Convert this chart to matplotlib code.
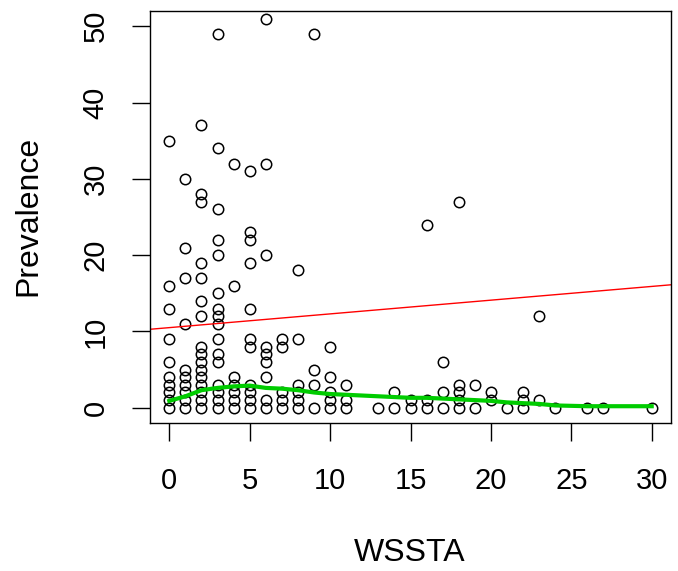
import numpy as np
import matplotlib.pyplot as plt

plt.rcParams.update(
    {
        "font.family": ["Liberation Sans", "DejaVu Sans"],
        "font.size": 21,
    }
)

# WSSTA value -> prevalence values observed at that value
points = {
    0: [0, 1, 2, 3, 4, 6, 9, 13, 16, 35],
    1: [0, 1, 2, 3, 4, 5, 11, 17, 21, 30],
    2: [0, 1, 2, 3, 4, 5, 6, 7, 8, 12, 14, 17, 19, 27, 28, 37],
    3: [0, 1, 2, 3, 6, 7, 9, 11, 12, 13, 15, 20, 22, 26, 34, 49],
    4: [0, 1, 2, 3, 4, 16, 32],
    5: [0, 1, 2, 3, 8, 9, 13, 19, 22, 23, 31],
    6: [0, 1, 4, 6, 7, 8, 20, 32, 51],
    7: [0, 1, 2, 8, 9],
    8: [0, 1, 2, 3, 9, 18],
    9: [0, 3, 5, 49],
    10: [0, 1, 2, 4, 8],
    11: [0, 1, 3],
    13: [0],
    14: [0, 2],
    15: [0, 1],
    16: [0, 1, 24],
    17: [0, 2, 6],
    18: [0, 1, 2, 3, 27],
    19: [0, 3],
    20: [1, 2],
    21: [0],
    22: [0, 1, 2],
    23: [1, 12],
    24: [0],
    26: [0],
    27: [0],
    30: [0],
}
wssta = np.array([k for k, v in points.items() for _ in v])
prev = np.array([y for v in points.values() for y in v])

# fitted line (intercept, slope)
line_a, line_b = 10.5, 0.18

# lowess smooth
lowess_x = [0, 1, 2, 3, 4, 5, 6, 7, 8, 9, 10, 11, 13, 14, 15, 16, 17, 18, 19,
            20, 21, 22, 23, 24, 26, 27, 30]
lowess_y = [0.9, 1.5, 2.3, 2.6, 2.8, 2.9, 2.6, 2.5, 2.3, 2.0, 1.8, 1.7, 1.5,
            1.4, 1.3, 1.3, 1.2, 1.1, 1.0, 0.9, 0.7, 0.6, 0.5, 0.3, 0.2, 0.2, 0.2]

W, H = 678, 571
fig = plt.figure(figsize=(W / 100, H / 100), dpi=100)
ax = fig.add_axes([150 / W, 1 - 423 / H, 521 / W, 412 / H])

ax.plot(wssta, prev, "o", mfc="none", mec="black", ms=7.5, mew=1.1)
xl = np.array([-1.2, 31.2])
ax.plot(xl, line_a + line_b * xl, color="red", lw=1)
ax.plot(lowess_x, lowess_y, color="#00cc00", lw=3)

ax.set_xlim(-1.2, 31.2)
ax.set_ylim(-2, 52)
ax.set_xticks([0, 5, 10, 15, 20, 25, 30])
ax.set_yticks([0, 10, 20, 30, 40, 50])
ax.tick_params(axis="x", length=13, width=1, pad=19)
ax.tick_params(axis="y", length=13, width=1, pad=16, labelrotation=90)
for lab in ax.get_yticklabels():
    lab.set_verticalalignment("center")
for s in ax.spines.values():
    s.set_linewidth(1)

fig.text(410 / W, 1 - 553 / H, "WSSTA", ha="center", va="center", fontsize=23)
fig.text(28 / W, 1 - 216 / H, "Prevalence", ha="center", va="center",
         rotation=90, fontsize=23)

fig.savefig("out.png", dpi=100)
